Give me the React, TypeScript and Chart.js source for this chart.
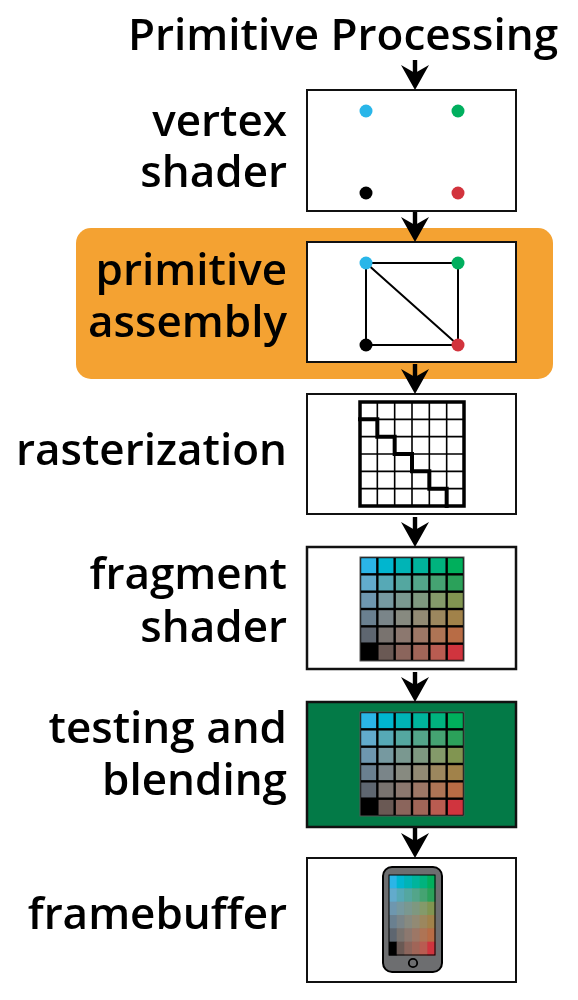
import React, { useEffect, useRef } from "react";
import { Chart, registerables } from "chart.js";

Chart.register(...registerables);

// ---------- data ----------
const TITLE = "Primitive Processing";
const STAGE_LABELS: string[][] = [
  ["vertex", "shader"],
  ["primitive", "assembly"],
  ["rasterization"],
  ["fragment", "shader"],
  ["testing and", "blending"],
  ["framebuffer"],
];
// vertices: cyan, green, black, red (unit-square corners u,v)
const VERTEX_COLORS = ["#29B6E9", "#00AF5E", "#000000", "#D2333D"];
const VERTEX_U = [0, 1, 0, 1];
const VERTEX_V = [0, 0, 1, 1];
// triangle outline path through vertex indices (covers all 5 edges)
const TRIANGLE_PATH = [0, 1, 3, 2, 0, 3];
// rasterization staircase in cell units
const RASTER_U = [0, 1, 1, 2, 2, 3, 3, 4, 4, 5, 5];
const RASTER_V = [1, 1, 2, 2, 3, 3, 4, 4, 5, 5, 6];
const PIXEL_COLORS: string[][] = [
  ["#2BB5E7", "#00B6CF", "#00B4B6", "#00B49C", "#00B37E", "#00AF5C"],
  ["#62ABCC", "#56A9B6", "#54A7A0", "#53A58A", "#45A372", "#2BA15A"],
  ["#6E97AF", "#7699A0", "#7A9890", "#7E9880", "#849A6A", "#819551"],
  ["#6A8090", "#7A8589", "#878A80", "#928A74", "#9C875E", "#A1824A"],
  ["#5E6670", "#79736F", "#8C786F", "#9D7766", "#AE7455", "#B86C45"],
  ["#000000", "#6A5954", "#8B655C", "#A06558", "#B95C51", "#D0343E"],
];

// ---------- layout ----------
const W = 578;
const H = 1000;
const BOX_L = 307;
const BOX_R = 516;
const BOX_TOP = [90, 242, 394, 547, 702, 858];
const BOX_BOT = [211, 362, 514, 669, 827, 982];
const LABEL_BASE = [
  [136, 187],
  [285, 337],
  [465],
  [589, 642],
  [743, 795],
  [929],
];
const ARROW_X = 415;
const DOT_X0 = 366;
const DOT_DX = 92;
const DOT_Y0 = 21;
const DOT_DY = 82;
const GRID_L = 360;
const GRID_SIZE = 104;
const GRID_TOP = [402, 557, 712];
const FONT = '600 44px "Open Sans", "Noto Sans", sans-serif';

export default function App() {
  const ref = useRef<HTMLCanvasElement | null>(null);

  useEffect(() => {
    if (!ref.current) return;

    const dotData = (stage: number) =>
      VERTEX_U.map((u, i) => ({
        x: DOT_X0 + u * DOT_DX,
        y: BOX_TOP[stage] + DOT_Y0 + VERTEX_V[i] * DOT_DY,
      }));
    const triData = TRIANGLE_PATH.map((i) => ({
      x: DOT_X0 + VERTEX_U[i] * DOT_DX,
      y: BOX_TOP[1] + DOT_Y0 + VERTEX_V[i] * DOT_DY,
    }));
    const cell = GRID_SIZE / 6;
    const stairData = RASTER_U.map((u, i) => ({
      x: GRID_L + u * cell,
      y: GRID_TOP[0] + RASTER_V[i] * cell,
    }));

    const diagram = {
      id: "diagram",
      beforeDatasetsDraw(chart: any) {
        const ctx = chart.ctx as CanvasRenderingContext2D;
        const sx = chart.scales.x;
        const sy = chart.scales.y;
        const px = (v: number) => sx.getPixelForValue(v);
        const py = (v: number) => sy.getPixelForValue(v);
        ctx.save();

        // orange highlight
        ctx.fillStyle = "#F4A232";
        ctx.beginPath();
        (ctx as any).roundRect(px(76), py(228), px(553) - px(76), py(379) - py(228), 15);
        ctx.fill();

        // boxes
        BOX_TOP.forEach((t, i) => {
          const x0 = px(BOX_L), y0 = py(t), w = px(BOX_R) - x0, h = py(BOX_BOT[i]) - y0;
          ctx.fillStyle = i === 4 ? "#037A47" : "#FFFFFF";
          ctx.fillRect(x0, y0, w, h);
          ctx.lineWidth = i === 3 || i === 4 ? 2.5 : 2;
          ctx.strokeStyle = "#111111";
          ctx.strokeRect(x0, y0, w, h);
        });

        // raster grid
        {
          const x0 = px(GRID_L), y0 = py(GRID_TOP[0]);
          const s = px(GRID_L + GRID_SIZE) - x0;
          ctx.strokeStyle = "#000";
          ctx.lineWidth = 1.6;
          for (let k = 1; k < 6; k++) {
            ctx.beginPath();
            ctx.moveTo(x0 + (k * s) / 6, y0);
            ctx.lineTo(x0 + (k * s) / 6, y0 + s);
            ctx.moveTo(x0, y0 + (k * s) / 6);
            ctx.lineTo(x0 + s, y0 + (k * s) / 6);
            ctx.stroke();
          }
          ctx.lineWidth = 3.5;
          ctx.strokeRect(x0, y0, s, s);
        }

        // colour grids
        [1, 2].forEach((g) => {
          const x0 = px(GRID_L), y0 = py(GRID_TOP[g]);
          const s = px(GRID_L + GRID_SIZE) - x0;
          const c = s / 6;
          ctx.fillStyle = "#000";
          ctx.fillRect(x0, y0, s, s);
          PIXEL_COLORS.forEach((row, r) =>
            row.forEach((col, k) => {
              ctx.fillStyle = col;
              ctx.fillRect(x0 + k * c + 1.2, y0 + r * c + 1.2, c - 2.4, c - 2.4);
            })
          );
          ctx.strokeStyle = "#555";
          ctx.lineWidth = 1;
          ctx.strokeRect(x0, y0, s, s);
        });

        // phone
        {
          const x0 = px(383), y0 = py(867), w = px(442) - x0, h = py(972) - y0;
          ctx.fillStyle = "#6D6E70";
          ctx.strokeStyle = "#000";
          ctx.lineWidth = 2;
          ctx.beginPath();
          (ctx as any).roundRect(x0, y0, w, h, 9);
          ctx.fill();
          ctx.stroke();
          const sx0 = px(389), sy0 = py(875), sw = px(435) - sx0, sh = py(955) - sy0;
          PIXEL_COLORS.forEach((row, r) =>
            row.forEach((col, k) => {
              ctx.fillStyle = col;
              ctx.fillRect(sx0 + (k * sw) / 6, sy0 + (r * sh) / 6, sw / 6 + 0.5, sh / 6 + 0.5);
            })
          );
          ctx.lineWidth = 1;
          ctx.strokeRect(sx0, sy0, sw, sh);
          ctx.lineWidth = 1.8;
          ctx.beginPath();
          ctx.arc(px(413), py(963), 4.2, 0, Math.PI * 2);
          ctx.stroke();
        }

        // arrows
        ctx.fillStyle = "#000";
        BOX_TOP.forEach((t) => {
          const x = px(ARROW_X), y = py(t);
          ctx.fillRect(x - 2.2, y - 30, 4.4, 16);
          ctx.beginPath();
          ctx.moveTo(x, y);
          ctx.lineTo(x - 14, y - 25);
          ctx.lineTo(x, y - 17);
          ctx.lineTo(x + 14, y - 25);
          ctx.closePath();
          ctx.fill();
        });

        // texts
        ctx.fillStyle = "#000";
        ctx.font = FONT;
        ctx.textBaseline = "alphabetic";
        ctx.textAlign = "center";
        ctx.fillText(TITLE, px(343), py(50));
        ctx.textAlign = "right";
        STAGE_LABELS.forEach((lines, i) =>
          lines.forEach((ln, j) => ctx.fillText(ln, px(287), py(LABEL_BASE[i][j])))
        );
        ctx.restore();
      },
    };

    const chart = new Chart(ref.current, {
      type: "scatter",
      data: {
        datasets: [
          {
            data: dotData(0),
            pointBackgroundColor: VERTEX_COLORS,
            pointBorderWidth: 0,
            pointRadius: 6.5,
            showLine: false,
            order: 0,
          },
          {
            data: dotData(1),
            pointBackgroundColor: VERTEX_COLORS,
            pointBorderWidth: 0,
            pointRadius: 6.5,
            showLine: false,
            order: 0,
          },
          {
            data: triData,
            showLine: true,
            borderColor: "#000",
            borderWidth: 2,
            pointRadius: 0,
            tension: 0,
            order: 2,
          },
          {
            data: stairData,
            showLine: true,
            borderColor: "#000",
            borderWidth: 4,
            borderCapStyle: "square",
            borderJoinStyle: "miter",
            pointRadius: 0,
            tension: 0,
            order: 2,
          },
        ] as any,
      },
      options: {
        animation: false,
        responsive: false,
        maintainAspectRatio: false,
        events: [],
        layout: { padding: 0, autoPadding: false },
        plugins: { legend: { display: false }, tooltip: { enabled: false } },
        scales: {
          x: { type: "linear", min: 0, max: W, display: false },
          y: { type: "linear", min: 0, max: H, reverse: true, display: false },
        },
      },
      plugins: [diagram],
    });
    return () => chart.destroy();
  }, []);

  return (
    <div style={{ position: "absolute", left: 0, top: 0, width: W, height: H, background: "#fff" }}>
      <canvas ref={ref} width={W} height={H} style={{ width: W, height: H, display: "block" }} />
    </div>
  );
}
